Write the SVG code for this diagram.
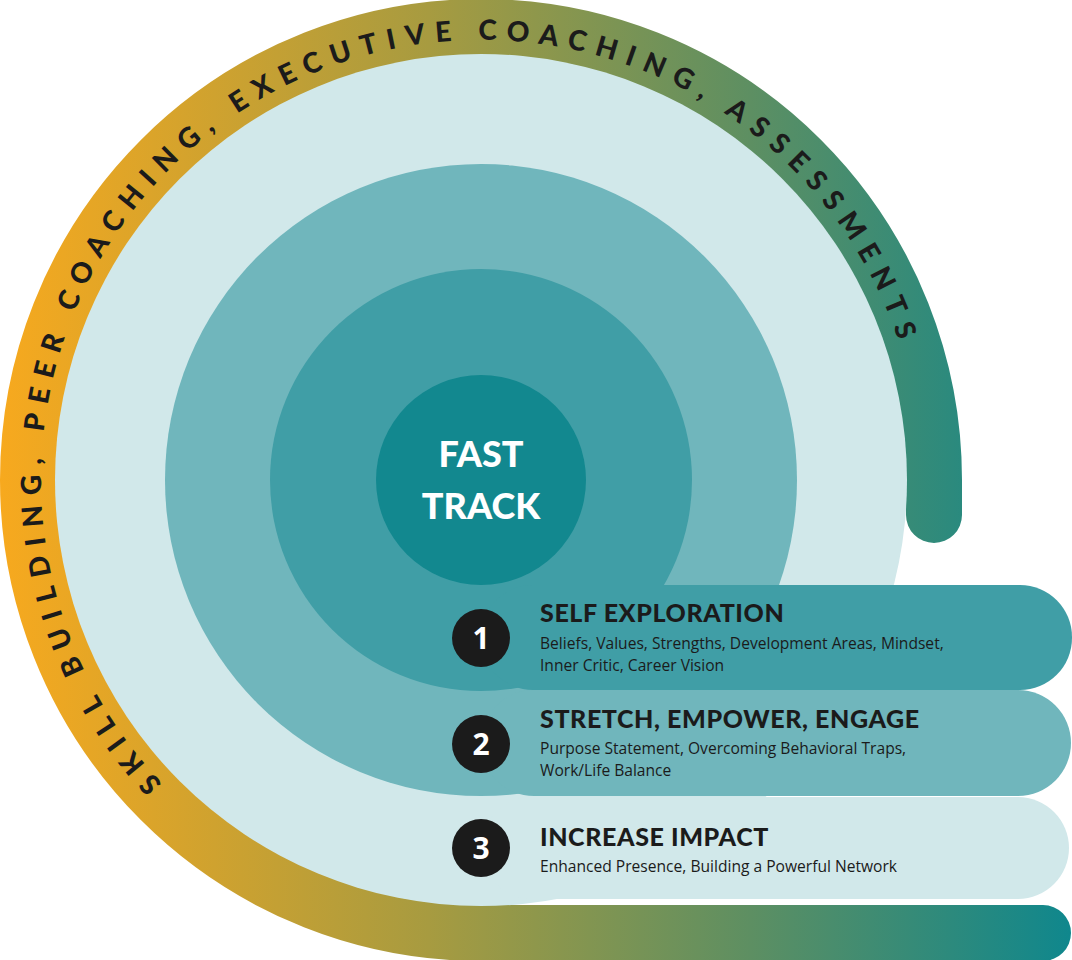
<svg xmlns="http://www.w3.org/2000/svg" width="1072" height="960" viewBox="0 0 1072 960">
<defs>
<linearGradient id="g" gradientUnits="userSpaceOnUse" x1="0" y1="0" x2="1072" y2="0">
<stop offset="0" stop-color="#f7a91e"/>
<stop offset="0.4" stop-color="#a79b40"/>
<stop offset="0.7" stop-color="#5d8f62"/>
<stop offset="1" stop-color="#0f878d"/>
</linearGradient>
<path id="arc" d="M162.4,783.3 A440,440 0 1 1 900.7,347.6"/>
</defs>
<style>
.t{font-family:"Lato","Open Sans",sans-serif;font-weight:900;font-size:25px;letter-spacing:0.6px;fill:#1b1b1b}
.s{font-family:"Open Sans",sans-serif;font-size:15.6px;fill:#1b1b1b}
.n{font-family:"Open Sans",sans-serif;font-weight:700;font-size:30px;fill:#fff}
.arc{font-family:"Lato","Open Sans",sans-serif;font-weight:900;font-size:28px;fill:#1b1b1b}
</style>
<g id="ring"><path d="M934,515 L934,480 A453,453 0 1 0 481,933 L1043,933" fill="none" stroke="url(#g)" stroke-width="56" stroke-linecap="round"/>
<text class="arc" textLength="1575"><textPath href="#arc">SKILL BUILDING, PEER COACHING, EXECUTIVE COACHING, ASSESSMENTS</textPath></text></g>
<g id="level3"><circle cx="481" cy="480" r="426" fill="#d1e8ea"/><rect x="481" y="797" width="588" height="102" rx="51" fill="#d1e8ea"/></g>
<g id="level2"><circle cx="481" cy="480" r="316" fill="#70b6bc"/><rect x="481" y="690" width="590" height="106" rx="53" fill="#70b6bc"/></g>
<g id="level1"><circle cx="481" cy="480" r="211" fill="#409ea6"/><rect x="481" y="585" width="591" height="105" rx="52" fill="#409ea6"/></g>
<g id="core"><circle cx="481" cy="480" r="105" fill="#12888f"/>
<text x="481" y="467" text-anchor="middle" font-family="Lato,'Open Sans',sans-serif" font-weight="900" font-size="36" fill="#fff">FAST</text>
<text x="481" y="519" text-anchor="middle" font-family="Lato,'Open Sans',sans-serif" font-weight="900" font-size="36" fill="#fff">TRACK</text></g>
<g id="step1"><circle cx="481" cy="638" r="29" fill="#1b1b1b"/><text class="n" x="481" y="649" text-anchor="middle">1</text>
<text class="t" x="540" y="622">SELF EXPLORATION</text>
<text class="s" x="540" y="649">Beliefs, Values, Strengths, Development Areas, Mindset,</text>
<text class="s" x="540" y="671">Inner Critic, Career Vision</text></g>
<g id="step2"><circle cx="481" cy="744" r="29" fill="#1b1b1b"/><text class="n" x="481" y="755" text-anchor="middle">2</text>
<text class="t" x="540" y="728">STRETCH, EMPOWER, ENGAGE</text>
<text class="s" x="540" y="754">Purpose Statement, Overcoming Behavioral Traps,</text>
<text class="s" x="540" y="776">Work/Life Balance</text></g>
<g id="step3"><circle cx="481" cy="848" r="29" fill="#1b1b1b"/><text class="n" x="481" y="859" text-anchor="middle">3</text>
<text class="t" x="540" y="846">INCREASE IMPACT</text>
<text class="s" x="540" y="872">Enhanced Presence, Building a Powerful Network</text></g>
</svg>
